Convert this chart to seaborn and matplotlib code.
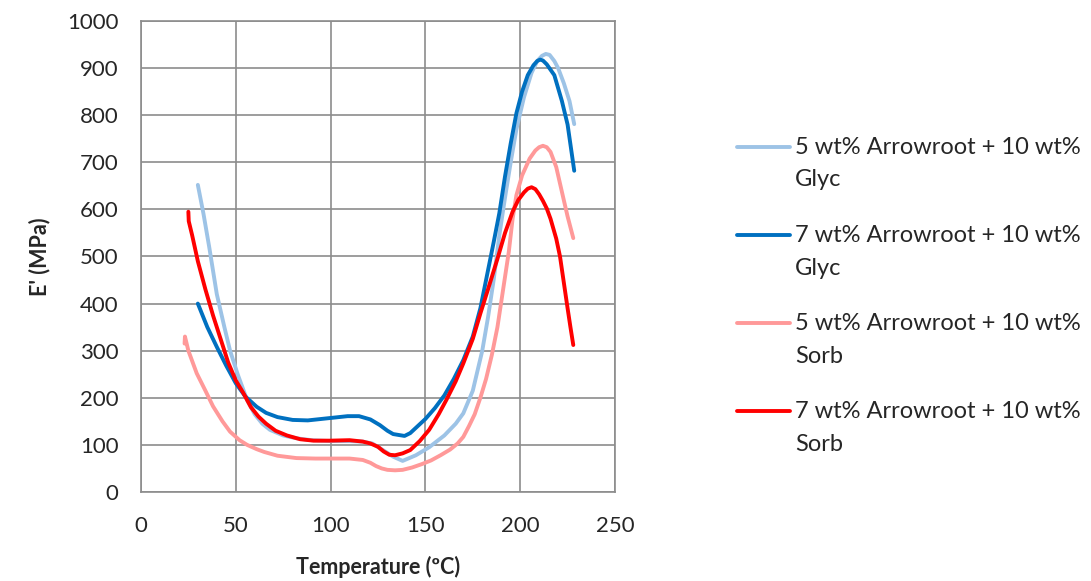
import matplotlib
matplotlib.use("Agg")
import matplotlib.pyplot as plt
import seaborn as sns
import pandas as pd
import numpy as np

# ---- data ----
glyc5_x = [30, 33, 36, 40, 44, 47, 51, 56, 60, 64, 68, 75, 82, 90, 100, 110, 117, 122, 128, 133, 138,
           145, 152, 160, 166, 170, 175, 180, 183, 186, 189, 192, 195, 198, 202, 206, 209, 211.5, 213.5,
           215.5, 218, 220, 223, 226, 228.5]
glyc5_y = [652, 590, 520, 420, 350, 300, 250, 195, 165, 145, 132, 120, 114, 110, 108, 108, 107, 103, 88,
           75, 66, 78, 95, 120, 145, 167, 215, 300, 370, 450, 545, 625, 700, 770, 838, 890, 915, 926, 930,
           928, 915, 900, 868, 830, 781]

glyc7_x = [30, 35, 40, 45, 50, 55, 61, 66, 72, 80, 88, 95, 102, 109, 115, 121, 126, 130, 133, 136, 139,
           142, 146, 150, 155, 160, 165, 170, 175, 179, 183, 186, 189, 192, 195, 198, 201, 204, 207,
           209, 210.5, 212, 214, 218, 222, 225, 228.5]
glyc7_y = [400, 350, 308, 268, 231, 203, 181, 168, 159, 153, 152, 155, 158, 161, 161, 154, 142, 130, 123,
           121, 119, 125, 140, 155, 178, 205, 240, 280, 330, 390, 470, 530, 592, 670, 740, 804, 850, 885,
           906, 915, 918, 916, 908, 885, 830, 780, 682]

sorb5_x = [23, 23.2, 25, 29.4, 34, 38, 43, 47, 52, 56, 61, 65, 72, 82, 92, 100, 110, 117, 121, 124, 127,
           130, 134, 138, 143, 148, 153, 158, 163, 167, 170, 173, 176, 179, 182, 185, 188, 191, 194, 196,
           198, 201, 205, 208, 210, 212, 214, 216, 219, 222.7, 225, 228]
sorb5_y = [315, 330, 300, 252, 215, 182, 150, 128, 110, 100, 91, 85, 77, 72, 71, 71, 71, 68, 62, 55, 50,
           47, 46, 47, 52, 59, 67, 78, 90, 103, 117, 140, 165, 200, 240, 290, 350, 430, 510, 580, 630,
           672, 708, 725, 732, 735, 732, 722, 690, 625, 585, 539]

sorb7_x = [25, 25.2, 27, 30, 34, 38, 42, 46, 50, 54, 58, 62, 66, 71, 77, 84, 91, 100, 110, 117, 121, 125,
           128, 131, 134, 138, 142, 147, 152, 157, 161, 166, 170, 175, 179, 183, 188, 192, 196, 199, 202,
           204, 206, 208, 210, 212, 214, 216, 219, 221, 223, 225, 226.5, 228]
sorb7_y = [595, 575, 545, 490, 430, 375, 325, 275, 237, 210, 180, 160, 145, 130, 120, 112, 109, 109, 110,
           107, 103, 96, 86, 79, 78, 82, 89, 108, 132, 165, 195, 235, 273, 325, 379, 430, 495, 550, 595,
           620, 636, 644, 647, 643, 632, 618, 602, 580, 538, 500, 445, 390, 350, 312]

labels = ["5 wt% Arrowroot + 10 wt%\nGlyc", "7 wt% Arrowroot + 10 wt%\nGlyc",
          "5 wt% Arrowroot + 10 wt%\nSorb", "7 wt% Arrowroot + 10 wt%\nSorb"]
colors = ["#9DC3E6", "#0070C0", "#FF9999", "#FF0000"]
x_ticks = [0, 50, 100, 150, 200, 250]
y_ticks = list(range(0, 1001, 100))

series = [(glyc5_x, glyc5_y), (glyc7_x, glyc7_y), (sorb5_x, sorb5_y), (sorb7_x, sorb7_y)]

sns.set_style("white")
plt.rcParams['font.family'] = ['Lato', 'DejaVu Sans']

fig = plt.figure(figsize=(10.91, 5.81), dpi=100)
ax = fig.add_axes([0.1292, 0.1532, 0.4345, 0.8107])

for (xs, ys), lab, col in zip(series, labels, colors):
    df = pd.DataFrame({"T": xs, "E": ys})
    sns.lineplot(data=df, x="T", y="E", sort=False, color=col, lw=2.8, label=lab, ax=ax)

ax.set_xlim(0, 250)
ax.set_ylim(0, 1000)
ax.set_xticks(x_ticks)
ax.set_yticks(y_ticks)
ax.grid(True, color="#8C8C8C", lw=1.2)
ax.set_axisbelow(True)
for s in ax.spines.values():
    s.set_color("#8C8C8C")
    s.set_linewidth(1.2)
ax.tick_params(axis="both", direction="out", length=6, color="#8C8C8C", labelsize=16)
ax.tick_params(axis="y", pad=10)
ax.tick_params(axis="x", pad=11)
ax.set_xlabel("Temperature (ºC)", fontsize=15.5, fontweight="bold", labelpad=15)
ax.set_ylabel("E' (MPa)", fontsize=15.5, fontweight="bold", labelpad=12)

leg = ax.legend(loc="upper left", bbox_to_anchor=(0.6755, 0.765), bbox_transform=fig.transFigure,
                frameon=False, fontsize=17, handlelength=2.25, handletextpad=0.2, labelspacing=1.45,
                borderaxespad=0, borderpad=0)
for t in leg.get_texts():
    t.set_linespacing(1.7)
# align each handle with the first text line
for ln in leg.get_lines():
    yd = np.asarray(ln.get_ydata(), dtype=float)
    ln.set_ydata(yd + 12.0)

fig.savefig("out.png", dpi=100)
